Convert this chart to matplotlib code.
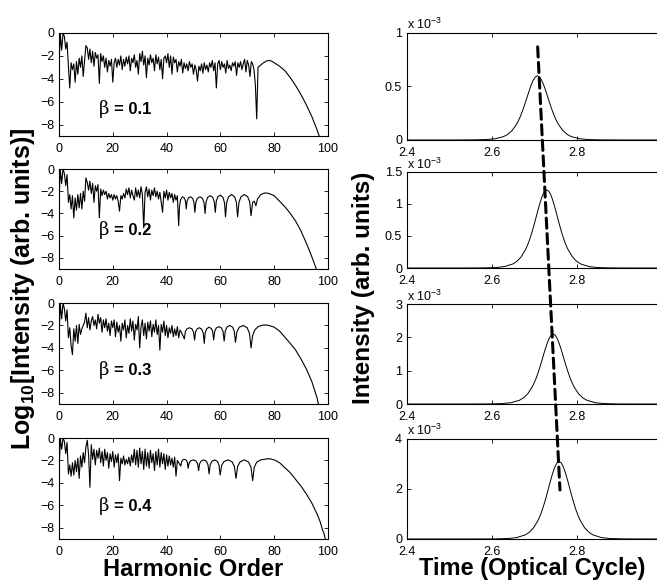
import numpy as np
import matplotlib.pyplot as plt
from matplotlib.patches import ConnectionPatch

plt.rcParams['font.family'] = ['Liberation Sans', 'DejaVu Sans']
plt.rcParams['mathtext.fontset'] = 'custom'
plt.rcParams['mathtext.rm'] = 'Liberation Sans'
plt.rcParams['mathtext.bf'] = 'Liberation Sans:bold'

betas = ['0.1', '0.2', '0.3', '0.4']

# ---- left column: log10 harmonic spectra ----
# noisy low-order part, one value every half harmonic starting at order 0
spec1_noisy = [-2.8, -0.1, -1.5, 0.0, -0.3, -1.4, -0.8, -2.9, -4.8, -2.6,
               -3.2, -2.7, -4.3, -2.5, -3.6, -2.2, -3.0, -2.0, -3.8, -2.4,
               -1.1, -1.3, -2.3, -1.4, -2.6, -1.6, -2.9, -1.7, -2.2, -1.9,
               -4.4, -1.8, -2.5, -2.0, -3.0, -2.2, -3.4, -2.4, -2.9, -2.3,
               -4.3, -2.6, -2.2, -3.0, -2.3, -2.8, -2.0, -3.2, -2.3, -2.9,
               -2.1, -2.7, -2.0, -3.3, -2.2, -2.6, -1.9, -3.0, -2.4, -3.6,
               -1.8, -2.5, -1.6, -2.8, -2.0, -3.9, -2.2, -2.8, -1.9, -2.6,
               -2.2, -3.3, -1.9, -2.7, -2.1, -3.2, -2.3, -4.0, -2.2, -2.0,
               -2.6, -1.8, -3.0, -2.0, -3.6, -2.1, -2.6, -2.3, -3.4, -2.5,
               -2.9, -2.3, -3.5, -2.6, -3.1, -2.7, -3.3, -2.5, -3.0, -2.7,
               -3.6, -2.8, -3.2, -4.2, -2.9, -3.3, -2.7, -3.5, -2.6, -3.2,
               -2.8, -3.4, -2.6, -3.0, -2.4, -3.3, -2.6, -4.8, -2.7, -2.4,
               -3.2, -2.5, -3.0, -2.7, -3.5, -2.4, -3.1, -2.8, -3.3, -2.6,
               -2.9, -2.5, -3.7, -2.6, -3.0, -2.5, -3.2, -2.7, -2.3, -3.4,
               -2.4, -2.8, -3.8, -2.5, -2.7, -3.2, -4.5, -7.5, -3.0, -2.9,
               -2.8, -2.7, -2.6, -2.55, -2.45]
spec1_tail_x = [78, 79, 80, 82, 84, 86, 88, 90, 92, 94, 96, 97.2]
spec1_tail_y = [-2.4, -2.45, -2.6, -2.9, -3.3, -3.9, -4.6, -5.4, -6.3, -7.3, -8.5, -9.3]

spec2_noisy = [-2.8, -0.1, -1.3, 0.0, -0.4, -1.5, -0.5, -3.0, -2.3, -3.6,
               -2.4, -4.4, -2.6, -3.7, -2.3, -3.5, -2.2, -3.6, -2.0, -2.9,
               -0.8, -1.2, -1.9, -1.1, -2.2, -1.3, -3.0, -1.5, -2.0, -1.4,
               -4.4, -1.8, -2.4, -1.9, -2.3, -2.0, -2.7, -2.2, -2.6, -2.3,
               -2.8, -2.3, -2.7, -2.4, -2.9, -3.8, -2.4, -2.7, -2.2, -2.6,
               -1.8, -2.3, -1.7, -2.6, -1.9, -2.4, -2.8, -1.7, -2.5, -1.9,
               -2.6, -1.6, -2.3, -5.3, -2.1, -1.6, -2.5, -1.8, -2.8, -1.9,
               -2.4, -1.7, -2.5, -2.0, -2.7, -2.1, -3.0, -3.9, -2.0, -2.6,
               -1.9, -2.8, -2.1, -2.6, -2.2, -3.0, -2.3, -2.8, -2.4, -5.1]
spec2_tail_x = [44.78, 45.2, 45.9, 46.6, 47.02, 47.3,
                47.62, 48.1, 48.9, 49.7, 50.18, 50.5,
                50.88, 51.45, 52.4, 53.35, 53.92, 54.3,
                54.68, 55.25, 56.2, 57.15, 57.72, 58.1,
                58.48, 59.05, 60.0, 60.95, 61.52, 61.9,
                62.35, 63.03, 64.15, 65.28, 65.95, 66.4,
                66.9, 67.65, 68.9, 70.15, 70.9, 71.4,
                72.0, 72.6, 73.2, 73.8, 75.0, 76.6,
                78, 80, 82, 84, 86, 88, 90, 92, 94, 96]
spec2_tail_y = [-3.41, -2.76, -2.5, -2.61, -2.89, -3.6,
                -2.89, -2.61, -2.5, -2.64, -2.99, -3.9,
                -2.99, -2.64, -2.5, -2.65, -3.03, -4.0,
                -2.96, -2.56, -2.4, -2.55, -2.93, -3.9,
                -2.89, -2.51, -2.35, -2.55, -3.03, -4.3,
                -3.0, -2.5, -2.3, -2.5, -3.0, -4.3,
                -3.0, -2.5, -2.3, -2.49, -2.97, -4.2,
                -3.0, -2.9, -3.3, -2.7, -2.3, -2.15,
                -2.2, -2.4, -2.9, -3.4, -4.0, -4.7, -5.6, -6.7, -7.9, -9.2]

spec3_noisy = [-3.0, -0.1, -1.4, 0.0, -0.5, -1.6, -0.6, -3.1, -2.2, -3.8,
               -4.6, -2.3, -3.4, -2.0, -3.6, -1.9, -2.8, -2.3, -2.0, -1.7,
               -0.9, -2.2, -1.3, -2.4, -1.6, -1.2, -2.0, -1.5, -2.3, -1.0,
               -1.8, -1.3, -2.6, -1.5, -2.2, -1.4, -2.5, -1.8, -2.9, -1.6,
               -2.2, -1.5, -3.0, -1.7, -2.6, -2.0, -3.4, -1.8, -2.4, -1.5,
               -3.1, -2.0, -2.7, -1.4, -2.5, -1.6, -3.3, -1.9, -2.4, -1.2,
               -4.0, -2.1, -1.5, -2.9, -1.8, -3.2, -1.7, -2.5, -1.6, -3.0,
               -1.9, -2.6, -1.5, -2.8, -2.0, -4.2, -1.9, -2.6, -1.6, -2.9,
               -2.0, -3.1, -2.2, -2.7, -2.0, -3.0, -2.3, -2.9, -2.1, -3.1,
               -2.4, -2.6]
spec3_tail_x = [46.6,
                46.98, 47.55, 48.5, 49.45, 50.02, 50.4,
                50.76, 51.3, 52.2, 53.1, 53.64, 54.0,
                54.35, 54.88, 55.75, 56.63, 57.15, 57.5,
                57.89, 58.48, 59.45, 60.43, 61.01, 61.4,
                61.82, 62.45, 63.5, 64.55, 65.18, 65.6,
                66.18, 67.05, 68.5, 69.95, 70.82, 71.4,
                71.98, 72.8, 74.0, 75.5, 76.8,
                78, 80, 82, 84, 86, 88, 90, 92, 94, 96, 96.6]
spec3_tail_y = [-3.2,
                -2.55, -2.3, -2.2, -2.31, -2.59, -3.3,
                -2.59, -2.31, -2.2, -2.34, -2.69, -3.6,
                -2.66, -2.3, -2.15, -2.27, -2.55, -3.3,
                -2.52, -2.22, -2.1, -2.23, -2.56, -3.4,
                -2.49, -2.14, -2.0, -2.15, -2.53, -3.5,
                -2.53, -2.15, -2.0, -2.2, -2.7, -4.0,
                -2.9, -2.4, -2.1, -1.98, -1.95,
                -2.0, -2.15, -2.5, -3.05, -3.6, -4.2, -5.0, -5.9, -7.0, -8.5, -9.2]

spec4_noisy = [-3.0, -0.1, -1.0, 0.0, -0.3, -1.4, -0.4, -3.2, -2.4, -3.4,
               -2.2, -3.3, -2.0, -3.0, -1.8, -3.6, -1.6, -2.6, -1.3, -2.2,
               -0.8, -0.2, -1.5, -4.4, -0.6, -1.9, -1.0, -2.4, -1.1, -1.8,
               -0.9, -2.2, -1.2, -2.5, -1.0, -2.0, -1.3, -2.7, -1.4, -2.1,
               -1.2, -2.6, -1.5, -2.2, -1.4, -3.8, -1.8, -2.3, -1.6, -2.4,
               -1.9, -2.3, -1.7, -2.5, -1.5, -2.2, -1.0, -2.4, -1.1, -2.6,
               -0.9, -2.3, -1.2, -2.8, -1.0, -2.5, -1.3, -2.7, -1.1, -2.2,
               -1.4, -2.9, -1.2, -2.4, -1.0, -2.6, -1.3, -2.3, -1.4, -2.8,
               -1.5, -2.5, -1.6, -2.4, -1.8, -2.6, -1.7, -3.4, -2.0, -2.2]
spec4_tail_x = [45.3,
                45.57, 45.98, 46.65, 47.33, 47.73, 48.0,
                48.39, 48.98, 49.95, 50.93, 51.51, 51.9,
                52.29, 52.88, 53.85, 54.83, 55.41, 55.8,
                56.21, 56.83, 57.85, 58.88, 59.49, 59.9,
                60.49, 61.38, 62.85, 64.33, 65.21, 65.8,
                66.42, 67.35, 68.9, 70.45, 71.38, 72.0,
                72.6, 73.5, 75.0, 77.0, 78.4,
                80, 82, 84, 86, 88, 90, 92, 93, 94, 95, 96, 97, 98, 98.5, 99.2]
spec4_tail_y = [-2.5,
                -2.11, -1.96, -1.9, -1.98, -2.18, -2.7,
                -2.21, -2.03, -1.95, -2.05, -2.3, -2.9,
                -2.28, -2.05, -1.95, -2.08, -2.4, -3.2,
                -2.39, -2.08, -1.95, -2.09, -2.42, -3.3,
                -2.42, -2.09, -1.95, -2.12, -2.53, -3.6,
                -2.53, -2.12, -1.95, -2.14, -2.6, -3.8,
                -2.6, -2.15, -1.95, -1.87, -1.85,
                -1.95, -2.2, -2.65, -3.1, -3.7, -4.3, -5.0, -5.4, -5.8, -6.3,
                -6.8, -7.4, -8.2, -8.5, -9.2]

# ---- right column: attosecond pulse intensity (units of 1e-3) ----
pulse1_t = [2.400, 2.507, 2.557, 2.587, 2.607, 2.627, 2.637, 2.647, 2.657, 2.662,
            2.667, 2.672, 2.677, 2.682, 2.687, 2.692, 2.697, 2.702, 2.707, 2.712,
            2.717, 2.722, 2.727, 2.732, 2.737, 2.742, 2.747, 2.752, 2.757, 2.767,
            2.777, 2.787, 2.807, 2.827, 2.857, 2.907, 3.000]
pulse1_i = [0, 0.0, 0.001, 0.004, 0.011, 0.031, 0.052, 0.087, 0.142, 0.178,
            0.222, 0.274, 0.331, 0.392, 0.454, 0.511, 0.558, 0.589, 0.60, 0.589,
            0.558, 0.511, 0.454, 0.392, 0.331, 0.274, 0.222, 0.178, 0.142, 0.087,
            0.052, 0.031, 0.011, 0.004, 0.001, 0.0, 0]

pulse2_t = [2.400, 2.529, 2.579, 2.609, 2.629, 2.649, 2.659, 2.669, 2.679, 2.684,
            2.689, 2.694, 2.699, 2.704, 2.709, 2.714, 2.719, 2.724, 2.729, 2.734,
            2.739, 2.744, 2.749, 2.754, 2.759, 2.764, 2.769, 2.774, 2.779, 2.789,
            2.799, 2.809, 2.829, 2.849, 2.879, 2.929, 3.000]
pulse2_i = [0, 0.0001, 0.0015, 0.007, 0.022, 0.063, 0.106, 0.177, 0.288, 0.362,
            0.451, 0.556, 0.672, 0.797, 0.924, 1.039, 1.135, 1.198, 1.22, 1.198,
            1.135, 1.039, 0.924, 0.797, 0.672, 0.556, 0.451, 0.362, 0.288, 0.177,
            0.106, 0.063, 0.022, 0.007, 0.0015, 0.0001, 0]

pulse3_t = [2.400, 2.544, 2.594, 2.624, 2.644, 2.664, 2.674, 2.684, 2.694, 2.699,
            2.704, 2.709, 2.714, 2.719, 2.724, 2.729, 2.734, 2.739, 2.744, 2.749,
            2.754, 2.759, 2.764, 2.769, 2.774, 2.779, 2.784, 2.789, 2.794, 2.804,
            2.814, 2.824, 2.844, 2.864, 2.894, 2.944, 3.000]
pulse3_i = [0, 0.0002, 0.0025, 0.013, 0.038, 0.109, 0.183, 0.305, 0.496, 0.624,
            0.777, 0.958, 1.157, 1.371, 1.590, 1.789, 1.953, 2.062, 2.10, 2.062,
            1.953, 1.789, 1.590, 1.371, 1.157, 0.958, 0.777, 0.624, 0.496, 0.305,
            0.183, 0.109, 0.038, 0.013, 0.0025, 0.0002, 0]

pulse4_t = [2.400, 2.558, 2.608, 2.638, 2.658, 2.678, 2.688, 2.698, 2.708, 2.713,
            2.718, 2.723, 2.728, 2.733, 2.738, 2.743, 2.748, 2.753, 2.758, 2.763,
            2.768, 2.773, 2.778, 2.783, 2.788, 2.793, 2.798, 2.803, 2.808, 2.818,
            2.828, 2.838, 2.858, 2.878, 2.908, 2.958, 3.000]
pulse4_i = [0, 0.0003, 0.0037, 0.019, 0.056, 0.161, 0.270, 0.450, 0.732, 0.921,
            1.147, 1.414, 1.708, 2.024, 2.347, 2.641, 2.883, 3.044, 3.10, 3.044,
            2.883, 2.641, 2.347, 2.024, 1.708, 1.414, 1.147, 0.921, 0.732, 0.450,
            0.270, 0.161, 0.056, 0.019, 0.0037, 0.0003, 0]

pulse_ylims = [1, 1.5, 3, 4]
pulse_yticks = [[0, 0.5, 1], [0, 0.5, 1, 1.5], [0, 1, 2, 3], [0, 2, 4]]
pulse_yticklabels = [['0', '0.5', '1'], ['0', '0.5', '1', '1.5'],
                     ['0', '1', '2', '3'], ['0', '2', '4']]

# dashed guide through the pulse peaks: (time, intensity) in top and bottom panels
trend_t = [2.7075, 2.760]
trend_i = [0.87, 1.96]

beta_y = [-6.65, -5.5, -6.0, -6.1]

spectra = [(spec1_noisy, spec1_tail_x, spec1_tail_y),
           (spec2_noisy, spec2_tail_x, spec2_tail_y),
           (spec3_noisy, spec3_tail_x, spec3_tail_y),
           (spec4_noisy, spec4_tail_x, spec4_tail_y)]
pulses = [(pulse1_t, pulse1_i), (pulse2_t, pulse2_i),
          (pulse3_t, pulse3_i), (pulse4_t, pulse4_i)]

fig = plt.figure(figsize=(6.57, 5.83), dpi=100)

left_rows = [(0.7667, 0.1767), (0.5386, 0.1715), (0.3070, 0.1732), (0.0755, 0.1732)]
right_rows = [(0.7599, 0.1835), (0.5403, 0.1647), (0.3070, 0.1715), (0.0755, 0.1715)]

ax_right = []
for k in range(4):
    noisy, tx, ty = spectra[k]
    h = np.concatenate([np.arange(len(noisy)) * 0.5, tx])
    v = np.concatenate([noisy, ty])

    ax = fig.add_axes([0.0898, left_rows[k][0], 0.4094, left_rows[k][1]])
    ax.plot(h, v, color='black', lw=0.8)
    ax.set_xlim(0, 100)
    ax.set_ylim(-9, 0)
    ax.set_xticks([0, 20, 40, 60, 80, 100])
    ax.set_yticks([0, -2, -4, -6, -8])
    ax.tick_params(direction='in', top=True, right=True, length=3,
                   labelsize=9, width=0.6)
    ax.tick_params(axis='x', pad=5)
    for s in ax.spines.values():
        s.set_linewidth(0.8)
    ax.text(14.8, beta_y[k], 'β', fontsize=13, family='DejaVu Serif',
            va='center', ha='left')
    ax.text(20.3, beta_y[k], '= ' + betas[k], fontsize=12, fontweight='bold',
            va='center', ha='left')

    t, i = pulses[k]
    axr = fig.add_axes([0.6195, right_rows[k][0], 0.388, right_rows[k][1]])
    axr.plot(t, i, color='black', lw=0.7)
    axr.set_xlim(2.4, 3.0)
    axr.set_ylim(0, pulse_ylims[k])
    axr.set_xticks([2.4, 2.6, 2.8])
    axr.set_xticklabels(['2.4', '2.6', '2.8'])
    axr.set_yticks(pulse_yticks[k])
    axr.set_yticklabels(pulse_yticklabels[k])
    axr.tick_params(direction='in', top=True, right=True, length=3,
                    labelsize=9, width=0.6)
    axr.tick_params(axis='x', pad=5)
    for s in axr.spines.values():
        s.set_linewidth(0.8)
    axr.text(0.0, 1.035, r'x 10$^{-3}$', transform=axr.transAxes,
             fontsize=9, ha='left', va='baseline')
    ax_right.append(axr)

con = ConnectionPatch(xyA=(trend_t[0], trend_i[0]), coordsA='data', axesA=ax_right[0],
                      xyB=(trend_t[1], trend_i[1]), coordsB='data', axesB=ax_right[3],
                      color='black', lw=2.2, linestyle=(0, (3.3, 1.8)), zorder=10)
fig.add_artist(con)

fig.text(0.2945, 0.012, 'Harmonic Order', fontsize=17, fontweight='bold',
         ha='center', va='baseline')
fig.text(0.81, 0.014, 'Time (Optical Cycle)', fontsize=17, fontweight='bold',
         ha='center', va='baseline')
fig.text(0.035, 0.504, r'Log$_{\mathbf{10}}$[Intensity (arb. units)]', fontsize=18,
         fontweight='bold', rotation=90, ha='center', va='center')
fig.text(0.554, 0.506, 'Intensity (arb. units)', fontsize=17.5, fontweight='bold',
         rotation=90, ha='center', va='center')

fig.savefig('out.png', dpi=100)
